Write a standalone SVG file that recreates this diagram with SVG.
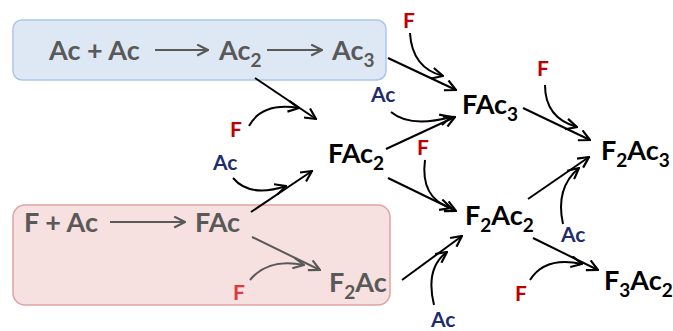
<svg xmlns="http://www.w3.org/2000/svg" width="673" height="331" viewBox="0 0 673 331">
  <style>
    text { font-family: Lato, "Open Sans", "Liberation Sans", sans-serif; font-weight: bold; }
    .main { font-size: 27px; fill: #000; }
    .gray { font-size: 27px; fill: #595959; }
    .sub { font-size: 19px; }
    .f { font-size: 21px; fill: #c00000; }
    .fp { font-size: 21px; fill: #e0393b; }
    .ac { font-size: 21px; fill: #1f2d6b; }
    .ln { fill: none; stroke: #000; stroke-width: 2; marker-end: url(#ah); }
    .lg { fill: none; stroke: #595959; stroke-width: 2; marker-end: url(#ahg); }
  </style>
  <defs>
    <marker id="ah" viewBox="0 0 12 12" refX="11" refY="6" markerWidth="13" markerHeight="13" markerUnits="userSpaceOnUse" orient="auto">
      <path d="M1,1 L11,6 L1,11" fill="none" stroke="#000" stroke-width="2"/>
    </marker>
    <marker id="ahg" viewBox="0 0 12 12" refX="11" refY="6" markerWidth="13" markerHeight="13" markerUnits="userSpaceOnUse" orient="auto">
      <path d="M1,1 L11,6 L1,11" fill="none" stroke="#595959" stroke-width="2"/>
    </marker>
  </defs>

  <!-- reaction boxes -->
  <rect id="box-acac" x="13" y="20" width="373" height="60" rx="9" fill="#dee8f5" stroke="#abc6e8" stroke-width="1.5"/>
  <rect id="box-fac" x="13" y="205" width="377" height="100" rx="12" fill="#f6e0e0" stroke="#e0a3a3" stroke-width="1.5"/>

  <g id="connectors">
    <!-- chains inside boxes -->
    <line class="lg" x1="155" y1="50" x2="208" y2="50"/>
    <line class="lg" x1="267" y1="50" x2="322" y2="50"/>
    <line class="lg" x1="110" y1="222" x2="185" y2="222"/>
    <line class="lg" x1="252" y1="237" x2="320" y2="270"/>
    <path class="lg" d="M250,280 Q268,258 304,265"/>

    <!-- to FAc2 -->
    <line class="ln" x1="255" y1="78" x2="316" y2="119"/>
    <path class="ln" d="M249,126 Q262,102 299,108"/>
    <line class="ln" x1="251" y1="212" x2="312" y2="171"/>
    <path class="ln" d="M233,178 Q250,198 286,186"/>

    <!-- to FAc3 -->
    <line class="ln" x1="388" y1="58" x2="456" y2="90"/>
    <path class="ln" d="M410,33 Q412,68 443,76"/>
    <line class="ln" x1="386" y1="149" x2="455" y2="117"/>
    <path class="ln" d="M391,112 Q410,128 451,117"/>

    <!-- to F2Ac2 -->
    <line class="ln" x1="388" y1="178" x2="456" y2="211"/>
    <path class="ln" d="M425,160 Q420,198 451,208"/>
    <line class="ln" x1="402" y1="280" x2="462" y2="236"/>
    <path class="ln" d="M434,305 Q425,268 447,252"/>

    <!-- to F2Ac3 -->
    <line class="ln" x1="523" y1="108" x2="590" y2="140"/>
    <path class="ln" d="M545,85 Q545,118 577,127"/>
    <line class="ln" x1="528" y1="199" x2="589" y2="157"/>
    <path class="ln" d="M563,224 Q555,188 579,168"/>

    <!-- to F3Ac2 -->
    <line class="ln" x1="533" y1="238" x2="598" y2="270"/>
    <path class="ln" d="M530,280 Q545,256 582,264"/>
  </g>

  <g id="n-acac"><text class="gray" x="49" y="60">Ac + Ac</text></g>
  <g id="n-ac2"><text class="gray" x="219" y="60">Ac<tspan class="sub" dy="7">2</tspan></text></g>
  <g id="n-ac3"><text class="gray" x="332" y="60">Ac<tspan class="sub" dy="7">3</tspan></text></g>
  <g id="n-fac-in"><text class="gray" x="24" y="232">F + Ac</text></g>
  <g id="n-fac"><text class="gray" x="195" y="232">FAc</text></g>
  <g id="n-f2ac"><text class="gray" x="329" y="292">F<tspan class="sub" dy="7">2</tspan><tspan dy="-7">Ac</tspan></text></g>

  <g id="n-fac2"><text class="main" x="328" y="163">FAc<tspan class="sub" dy="7">2</tspan></text></g>
  <g id="n-fac3"><text class="main" x="462" y="114">FAc<tspan class="sub" dy="7">3</tspan></text></g>
  <g id="n-f2ac2"><text class="main" x="465" y="225">F<tspan class="sub" dy="7">2</tspan><tspan dy="-7">Ac</tspan><tspan class="sub" dy="7">2</tspan></text></g>
  <g id="n-f2ac3"><text class="main" x="601" y="160">F<tspan class="sub" dy="7">2</tspan><tspan dy="-7">Ac</tspan><tspan class="sub" dy="7">3</tspan></text></g>
  <g id="n-f3ac2"><text class="main" x="604" y="290">F<tspan class="sub" dy="7">3</tspan><tspan dy="-7">Ac</tspan><tspan class="sub" dy="7">2</tspan></text></g>

  <!-- reagent labels -->
  <g id="reagents">
    <text class="f" x="403" y="28">F</text>
    <text class="ac" x="371" y="102">Ac</text>
    <text class="f" x="417" y="155">F</text>
    <text class="f" x="537" y="76">F</text>
    <text class="f" x="230" y="137">F</text>
    <text class="ac" x="213" y="170">Ac</text>
    <text class="ac" x="561" y="242">Ac</text>
    <text class="f" x="515" y="301">F</text>
    <text class="ac" x="431" y="327">Ac</text>
    <text class="fp" x="233" y="300">F</text>
  </g>
</svg>
